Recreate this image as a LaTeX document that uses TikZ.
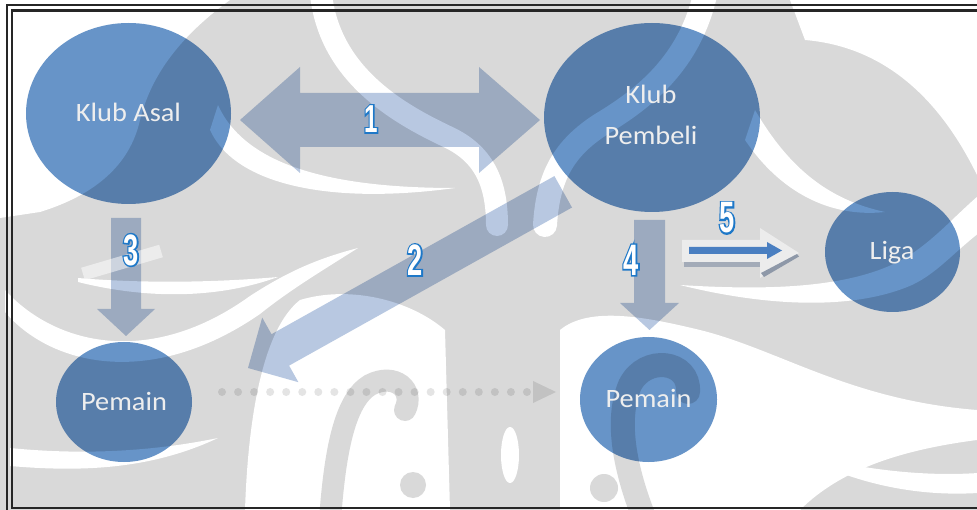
\documentclass[tikz,border=0pt]{standalone}
\usepackage{fontspec}
\setmainfont{Carlito}
\newfontfamily\numfont[FakeStretch=0.62]{Liberation Sans Bold}
\newfontfamily\numfontout[FakeStretch=0.62,FakeBold=7]{Liberation Sans Bold}
\usetikzlibrary{shapes.geometric}
\definecolor{ellblue}{HTML}{6794C8}
\definecolor{arrfill}{HTML}{B8C8E1}
\definecolor{wm}{HTML}{D9D9D9}
\definecolor{numblue}{HTML}{1E78C8}
\definecolor{blue5}{HTML}{4A7FC1}
\definecolor{bar5}{HTML}{A3ABB8}
\definecolor{sliver5}{HTML}{8E98A8}
\definecolor{dotgrey}{HTML}{E4E4E4}
\definecolor{lbltext}{HTML}{EEEEEE}
\tikzset{
  ell/.style={ellipse, fill=ellblue, inner sep=0pt},
  lbl/.style={text=lbltext, font=\fontsize{26.5}{30}\selectfont, inner sep=0pt, anchor=base},
  blockarrow/.style={fill=arrfill},
  band/.style={draw=white, line cap=round},
  curl/.style={draw=wm, line cap=round},
  numstyle/.style={font={\numfont\fontsize{#1}{#1}\selectfont}, inner sep=0pt, text=white},
  numout/.style={font={\numfontout\fontsize{#1}{#1}\selectfont}, inner sep=0pt, text=numblue},
  frameline/.style={draw=black!85, line width=2.2pt},
}
\newcommand\outnum[4]{%
  \node[numout=#4] (#1o) at #2 {#3};
  \node[numstyle=#4] (#1) at #2 {#3};
}
\begin{document}
\begin{tikzpicture}[x=1pt,y=-1pt]
\useasboundingbox (0,0) rectangle (977,510);
\clip (0,0) rectangle (977,510);

% ---- watermark background (opaque)
  \fill[wm] (0,0) rectangle (977,510);
  \fill[white] (0,0) -- (230,0) .. controls (175,40) and (150,80) .. (140,120)
     .. controls (130,165) and (95,195) .. (40,212) -- (0,218) -- cycle;
  \fill[white] (790,0) -- (977,0) -- (977,175) .. controls (950,120) and (900,48) .. (805,40) -- cycle;
  \draw[band, line width=22pt] (320,-20) .. controls (322,70) and (395,112) .. (448,137)
     .. controls (482,153) and (497,180) .. (497,225);
  \draw[band, line width=24pt] (708,-20) .. controls (695,60) and (645,98) .. (600,125)
     .. controls (565,148) and (548,175) .. (545,225);
  \fill[white] (218,105) .. controls (245,165) and (330,188) .. (455,188)
     .. controls (330,205) and (235,185) .. (210,130) -- cycle;
  \fill[white] (755,110) .. controls (790,170) and (830,200) .. (885,212)
     .. controls (830,218) and (780,192) .. (745,140) -- cycle;
  \fill[white] (680,285) .. controls (760,290) and (850,290) .. (905,258)
     .. controls (935,240) and (955,215) .. (985,190) -- (990,225)
     .. controls (960,245) and (940,272) .. (912,285)
     .. controls (850,312) and (760,305) .. (680,285) -- cycle;
  \fill[white] (5,290) .. controls (55,345) and (150,368) .. (250,296)
     .. controls (290,270) and (320,258) .. (358,248)
     .. controls (320,272) and (290,290) .. (260,314)
     .. controls (150,390) and (50,365) .. (5,312) -- cycle;
  \fill[white] (78,278) .. controls (150,284) and (220,282) .. (278,277)
     .. controls (220,298) and (150,300) .. (78,282) -- cycle;
  \fill[white] (10,448) .. controls (80,455) and (150,452) .. (218,438)
     .. controls (150,470) and (80,472) .. (10,466) -- cycle;
  \fill[white] (245,510) .. controls (248,420) and (262,330) .. (300,300)
     .. controls (350,285) and (410,300) .. (445,330) -- (450,510) -- cycle;
  \fill[white] (560,510) -- (560,330) .. controls (590,305) and (650,318) .. (700,330)
     .. controls (780,350) and (850,400) .. (977,410) -- (977,440)
     .. controls (900,450) and (840,470) .. (800,510) -- cycle;
  \fill[white] (795,452) .. controls (860,470) and (930,478) .. (990,472) -- (990,492)
     .. controls (930,498) and (860,488) .. (795,452) -- cycle;
  \draw[curl, line width=22pt] (330,520) .. controls (335,450) and (345,400) .. (370,385)
     .. controls (395,372) and (415,390) .. (405,410);
  \fill[wm] (413,485) circle (13);
  \draw[curl, line width=24pt] (645,520) .. controls (625,470) and (615,420) .. (630,385)
     .. controls (645,355) and (690,360) .. (688,392);
  \fill[wm] (604,488) circle (14);
  \fill[white] (510,455) ellipse (9 and 28);

\begin{scope}[blend mode=multiply]
\node[ell, minimum width=205, minimum height=181] (asal) at (128.5,113.5) {};
\node[ell, minimum width=216, minimum height=189] (pembeli) at (652,117.5) {};
\node[ell, minimum width=135, minimum height=120] (liga) at (892.5,252) {};
\node[ell, minimum width=136, minimum height=120] (pemainL) at (124,402) {};
\node[ell, minimum width=137, minimum height=125] (pemainR) at (648.5,399.5) {};

\fill[blockarrow] (240,120) -- (300,67) -- (300,93) -- (479,93) -- (479,67) -- (540,120)
   -- (479,173) -- (479,147) -- (300,147) -- (300,173) -- cycle;
\fill[blockarrow] (248,368) -- (262.2,317.6) -- (271.5,334.2) -- (554.4,176.1) -- (572,207.5)
   -- (289.1,365.6) -- (298.4,382.2) -- cycle;
\fill[blockarrow] (111,218) -- (141,218) -- (141,309) -- (155,309) -- (126,336) -- (97,309) -- (111,309) -- cycle;
\fill[blockarrow] (634,220) -- (665,220) -- (665,303) -- (679,303) -- (649.5,330) -- (620,303) -- (634,303) -- cycle;

\coordinate (dotA) at (222,392);
\coordinate (dotB) at (527,392);
\draw[dotgrey, line width=8pt, line cap=round, dash pattern=on 0pt off 16.05pt] (dotA) -- (dotB);
\fill[dotgrey] (533,381) -- (556,392) -- (533,403) -- cycle;
\end{scope}

\node[lbl] (tAsal) at (128.5,122) {\scalebox{1.07}[1]{Klub Asal}};
\node[lbl] (tKlub) at (651,104) {\scalebox{1.07}[1]{Klub}};
\node[lbl] (tPembeli) at (651,145) {\scalebox{1.07}[1]{Pembeli}};
\node[lbl] (tLiga) at (892,260) {\scalebox{1.07}[1]{Liga}};
\node[lbl] (tPemainL) at (124,410) {\scalebox{1.07}[1]{Pemain}};
\node[lbl] (tPemainR) at (648.5,407) {\scalebox{1.07}[1]{Pemain}};

\draw[white, opacity=0.5, line width=13pt] (83,274) -- (161,251);
\fill[white, opacity=0.5] (682,240) -- (760,240) -- (760,228) -- (799,253) -- (760,278) -- (760,262) -- (682,262) -- cycle;
\fill[bar5] (684,262) rectangle (760,267);
\fill[sliver5] (761,273) -- (797,254) -- (799,256.5) -- (764,277) -- cycle;
\fill[blue5] (689,247) -- (767,247) -- (767,242) -- (782,250.5) -- (767,259) -- (767,254) -- (689,254) -- cycle;

\outnum{n1}{(371,119)}{1}{39}
\outnum{n2}{(415,260)}{2}{44}
\outnum{n3}{(131,250)}{3}{44}
\outnum{n4}{(631,260)}{4}{44}
\outnum{n5}{(727,218)}{5}{44}

\draw[frameline] (7,5) rectangle (1000,530);
\draw[frameline] (12,10.5) rectangle (995,508);
\end{tikzpicture}
\end{document}
